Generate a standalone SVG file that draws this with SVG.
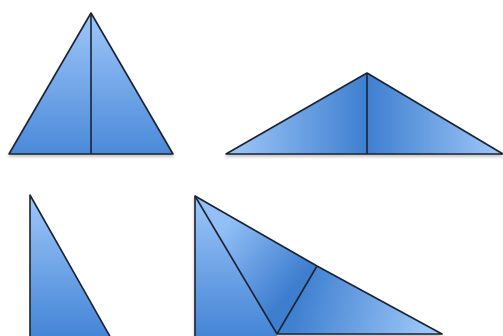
<svg xmlns="http://www.w3.org/2000/svg" width="503" height="336" viewBox="0 0 503 336">
<style>
.s{stroke:#1b2433;stroke-width:1.6;stroke-linejoin:round;fill:none}
.ln{stroke:#1b2433;stroke-width:1.6;fill:none}
</style>
<defs>
<linearGradient id="gv" x1="0" y1="0" x2="0" y2="1"><stop offset="0" stop-color="#9ec7f9"/><stop offset="1" stop-color="#4b8ad9"/></linearGradient>
<linearGradient id="gl" gradientUnits="userSpaceOnUse" x1="226" y1="0" x2="367" y2="0"><stop offset="0" stop-color="#a0c8f9"/><stop offset="1" stop-color="#3e7fd0"/></linearGradient>
<linearGradient id="gr" gradientUnits="userSpaceOnUse" x1="367" y1="0" x2="503" y2="0"><stop offset="0" stop-color="#3e7fd0"/><stop offset="1" stop-color="#a0c8f9"/></linearGradient>
<linearGradient id="gbl" gradientUnits="userSpaceOnUse" x1="0" y1="195" x2="0" y2="336"><stop offset="0" stop-color="#9ec7f9"/><stop offset="1" stop-color="#4585d6"/></linearGradient>
<linearGradient id="gm" gradientUnits="userSpaceOnUse" x1="230" y1="220" x2="300" y2="280"><stop offset="0" stop-color="#92bff6"/><stop offset="1" stop-color="#3d7ecf"/></linearGradient>
<linearGradient id="gri" gradientUnits="userSpaceOnUse" x1="300" y1="290" x2="430" y2="320"><stop offset="0" stop-color="#3f80d1"/><stop offset="1" stop-color="#9cc6f8"/></linearGradient>
<filter id="sh" x="-10%" y="-10%" width="120%" height="130%"><feGaussianBlur in="SourceAlpha" stdDeviation="1.5"/><feOffset dy="2"/><feComponentTransfer><feFuncA type="linear" slope="0.25"/></feComponentTransfer><feMerge><feMergeNode/><feMergeNode in="SourceGraphic"/></feMerge></filter>
</defs>
<g id="tri-top-left" filter="url(#sh)">
<polygon points="91,13 173,154 9,154" fill="url(#gv)"/>
<polygon points="91,13 173,154 9,154" class="s"/>
<line x1="91" y1="13" x2="91" y2="154" class="ln"/>
</g>
<g id="tri-top-right" filter="url(#sh)">
<polygon points="226,154 367,73 367,154" fill="url(#gl)"/>
<polygon points="367,73 503,154 367,154" fill="url(#gr)"/>
<polygon points="226,154 367,73 503,154" class="s"/>
<line x1="367" y1="73" x2="367" y2="154" class="ln"/>
</g>
<g id="tri-bottom-left">
<polygon points="30,195 111,338 30,338" fill="url(#gbl)"/>
<polyline points="30,340 30,195 112,340" class="s"/>
</g>
<g id="tri-bottom-right" filter="url(#sh)">
<polygon points="195,338 195,196 277,334 277,338" fill="url(#gbl)"/>
<polygon points="195,196 317,266 277,334" fill="url(#gm)"/>
<polygon points="317,266 442,334 277,334" fill="url(#gri)"/>
<polyline points="195,340 195,196 317,266 442,334 277,334" class="s"/>
<line x1="195" y1="196" x2="277" y2="334" class="ln" stroke-width="2.2"/>
<line x1="277" y1="334" x2="317" y2="266" class="ln" stroke-width="2"/>
</g>
</svg>
